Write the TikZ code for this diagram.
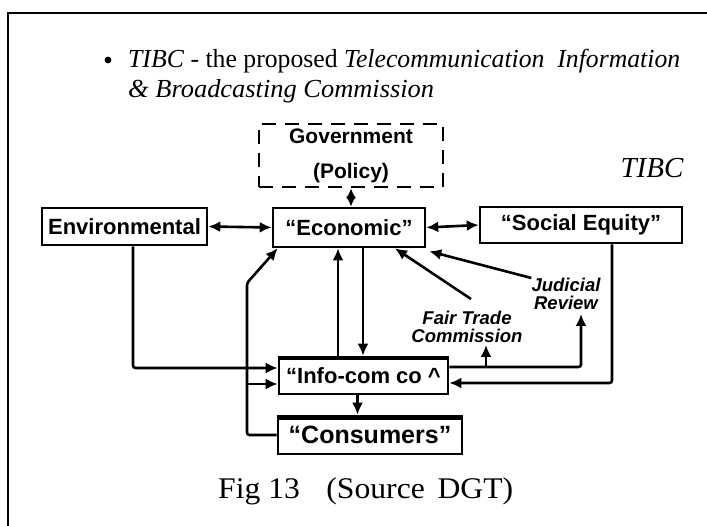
\documentclass[tikz,border=0pt]{standalone}
\usepackage{fontspec}
\setmainfont{Liberation Serif}
\setsansfont{Liberation Sans}
\usetikzlibrary{arrows.meta,calc}

\begin{document}
\begin{tikzpicture}[x=1pt,y=-1pt,
  box/.style={draw, line width=2.6pt, inner sep=0pt,
    font=\sffamily\bfseries\fontsize{22}{22}\selectfont},
  conn/.style={line width=2.6pt, rounded corners=2.5pt},
  arr/.style={conn, -{Latex[length=12pt,width=11pt]}},
  dbl/.style={conn, {Latex[length=12pt,width=11pt]}-{Latex[length=12pt,width=11pt]}},
  lab/.style={font=\sffamily\bfseries\itshape\fontsize{18.5}{18}\selectfont,
    align=center, inner sep=0pt},
  txt/.style={inner sep=0pt},
]
\useasboundingbox (0,0) rectangle (707,526);
\fill[white] (0,0) rectangle (707,526);

% slide frame
\draw[line width=1.6pt] (8,526) -- (8,13) -- (707,13);

% heading
\fill (108,60) circle[radius=3.4pt];
\node[txt, anchor=base west] (head1) at (128,68)
  {\resizebox{552pt}{\height}{\fontsize{26}{26}\selectfont\textit{TIBC} - the proposed \textit{Telecommunication\ \ Information}}};
\node[txt, anchor=base west] (head2) at (128,98)
  {\resizebox{306pt}{\height}{\fontsize{26}{26}\selectfont\itshape \& Broadcasting Commission}};
\node[txt, anchor=base] (tibc) at (652,178) {\fontsize{29}{29}\selectfont\itshape TIBC};

% boxes
\node[box, dash pattern=on 14pt off 9pt,
  minimum width=184pt, minimum height=63pt, align=center,
  font=\sffamily\bfseries\fontsize{21}{35}\selectfont] (gov) at (351,155.5) {Government\\(Policy)};
\node[box, minimum width=165pt, minimum height=37pt] (env) at (124.5,226.5) {\raisebox{-2pt}{Environmental}};
\node[box, minimum width=152pt, minimum height=39pt] (eco) at (349,227.5) {\raisebox{-2pt}{“Economic”}};
\node[box, minimum width=202pt, minimum height=36pt] (soc) at (581,225) {\raisebox{-2pt}{“Social Equity”}};
\node[box, minimum width=169pt, minimum height=37pt] (info) at (363.5,375.5) {\raisebox{-2pt}{“Info-com co \textasciicircum}};
\node[box, minimum width=184pt, minimum height=38pt,
  font=\sffamily\bfseries\fontsize{25}{25}\selectfont] (cons) at (370,435) {\raisebox{-4pt}{“Consumers”}};
\draw[line width=4pt] ([yshift=-2pt]info.north west) -- ([yshift=-2pt]info.north east);
\draw[line width=5pt] ([yshift=-2.5pt]cons.north west) -- ([yshift=-2.5pt]cons.north east);

% side labels
\node[lab] (jr) at (566,294) {Judicial\\Review};
\node[lab] (ft) at (467,327) {Fair Trade\\Commission};

% caption
\node[txt, anchor=base west] (cap) at (218,498)
  {\resizebox{295pt}{\height}{\fontsize{30}{30}\selectfont Fig 13\hspace{25pt}(Source\hspace{12pt}DGT)}};

% connectors
\draw[conn, {Latex[length=10pt,width=10pt]}-{Latex[length=10pt,width=10pt]}]
  (gov.south) -- (gov.south |- eco.north);
\draw[dbl] (env.east) -- (eco.west);
\draw[dbl] (eco.east) -- (soc.west);

\coordinate (ecoU) at ([xshift=-11pt]eco.south);
\coordinate (ecoD) at ([xshift=14pt]eco.south);
\draw[arr] (ecoU |- info.north) -- (ecoU);
\draw[arr] (ecoD) -- (ecoD |- info.north);

\draw[arr] ([xshift=8.5pt]env.south) |- ([yshift=7.5pt]info.west);

\coordinate (bend) at (247,283);
\coordinate (infoLlow) at ([yshift=-8.5pt]info.west);
\draw[arr] (cons.west) -| (bend) -- ([xshift=6pt]eco.south west);
\draw[arr] (infoLlow -| bend) -- (infoLlow);

\coordinate (consIn) at ([xshift=-6pt]info.south);
\draw[arr] (consIn) -- (consIn |- cons.north);

\coordinate (infoRhigh) at ([yshift=8.5pt]info.east);
\coordinate (jrIn) at ([xshift=15pt,yshift=-4pt]jr.south);
\coordinate (ftIn) at ([xshift=19pt,yshift=-2pt]ft.south);
\draw[arr] (infoRhigh) -| (jrIn);
\draw[arr] (infoRhigh -| ftIn) -- (ftIn);

\draw[arr] ([xshift=31pt]soc.south) |- ([yshift=-7.5pt]info.east);

\draw[arr] ([xshift=4pt,yshift=12pt]ft.north) -- ([xshift=46pt]eco.south);
\draw[arr] (jr.north west) -- ([xshift=3pt,yshift=-3pt]eco.south east);
\end{tikzpicture}
\end{document}
